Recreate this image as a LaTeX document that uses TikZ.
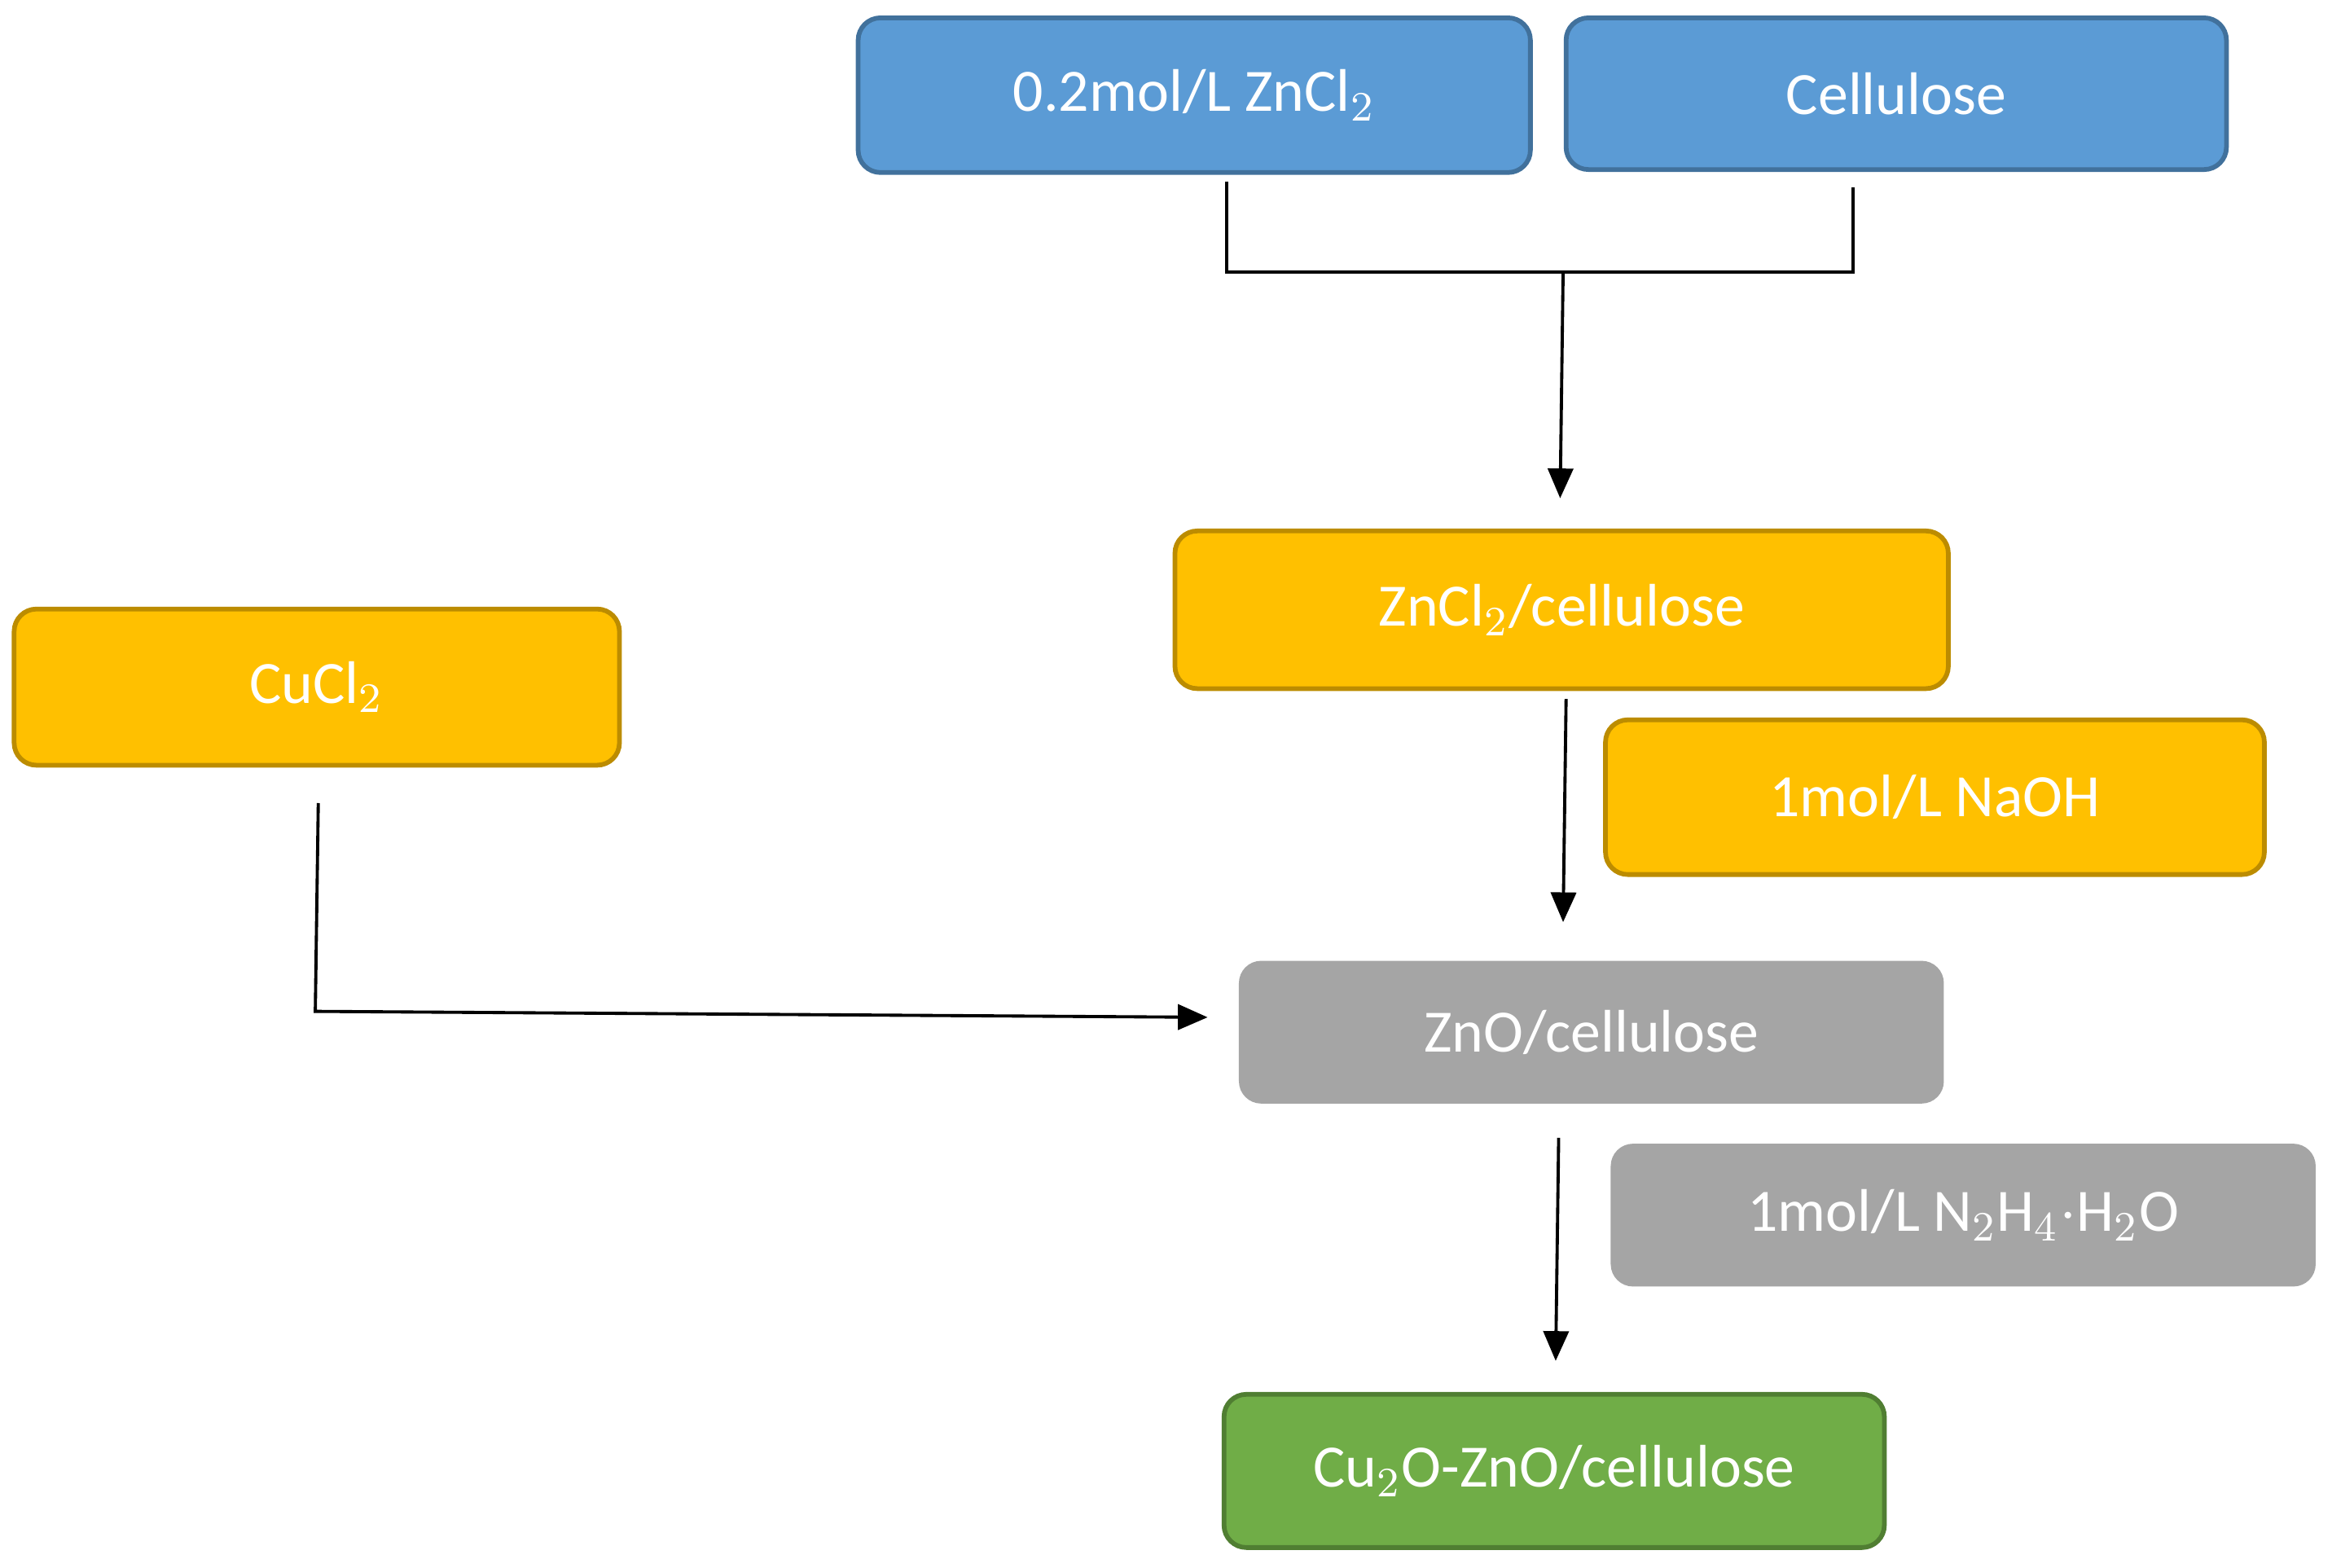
\documentclass[tikz,border=0pt]{standalone}
\usepackage{fontspec}
\setmainfont{Carlito}
\usetikzlibrary{arrows.meta}
\definecolor{boxblue}{HTML}{5B9BD5}
\definecolor{lineblue}{HTML}{41719C}
\definecolor{boxorange}{HTML}{FFC000}
\definecolor{lineorange}{HTML}{BC8C00}
\definecolor{boxgray}{HTML}{A5A5A5}
\definecolor{boxgreen}{HTML}{70AD47}
\definecolor{linegreen}{HTML}{507E32}
\tikzset{
  stage/.style={rounded corners=0.15cm,text=white,font=\fontsize{11.5}{14}\selectfont,inner sep=0pt,line width=0.9pt},
  bluestage/.style={stage,fill=boxblue,draw=lineblue},
  orangestage/.style={stage,fill=boxorange,draw=lineorange},
  graystage/.style={stage,fill=boxgray},
  greenstage/.style={stage,fill=boxgreen,draw=linegreen},
  flow/.style={line width=0.6pt,-{Triangle[length=0.2cm,width=0.17cm]}}
}
\begin{document}
\begin{tikzpicture}[yscale=-1]
    \useasboundingbox (0,0) rectangle (15.68,10.54);
    \node[bluestage,minimum width=4.52cm,minimum height=1.04cm] at (8.03,0.64) (zncl) {0.2mol/L ZnCl$_2$};
    \node[bluestage,minimum width=4.44cm,minimum height=1.02cm] at (12.75,0.63) (cell) {Cellulose};
    \node[orangestage,minimum width=5.2cm,minimum height=1.06cm] at (10.50,4.10) (zncell) {ZnCl$_2$/cellulose};
    \node[orangestage,minimum width=4.07cm,minimum height=1.05cm] at (2.13,4.62) (cucl) {CuCl$_2$};
    \node[orangestage,minimum width=4.43cm,minimum height=1.04cm] at (13.01,5.36) (naoh) {1mol/L NaOH};
    \node[graystage,minimum width=4.74cm,minimum height=0.96cm] at (10.70,6.94) (zno) {ZnO/cellulose};
    \node[graystage,minimum width=4.74cm,minimum height=0.96cm] at (13.20,8.17) (hydr) {1mol/L N$_2$H$_4$$\cdot$H$_2$O};
    \node[greenstage,minimum width=4.44cm,minimum height=1.03cm] at (10.45,9.89) (prod) {Cu$_2$O-ZnO/cellulose};
    \coordinate (j) at (10.51,1.83);
    \coordinate (a1) at (10.49,3.35);
    \coordinate (a2) at (10.51,6.20);
    \coordinate (c1) at (2.12,6.80);
    \coordinate (a3) at (8.12,6.84);
    \coordinate (a4) at (10.46,9.15);
    \draw[line width=0.6pt] (8.25,1.22) -- (8.25,1.83) -- (12.46,1.83) -- (12.46,1.26);
    \draw[flow] (j) -- (a1);
    \draw[flow] (10.53,4.70) -- (a2);
    \draw[flow] (2.14,5.40) -- (c1) -- (a3);
    \draw[flow] (10.48,7.65) -- (a4);
\end{tikzpicture}
\end{document}
